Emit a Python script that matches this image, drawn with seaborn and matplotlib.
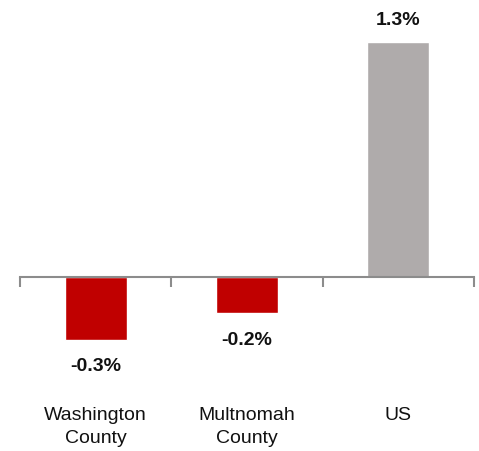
import matplotlib
matplotlib.use("Agg")
import matplotlib.pyplot as plt
import seaborn as sns
import pandas as pd
from matplotlib.transforms import blended_transform_factory

categories = ["Washington\nCounty", "Multnomah\nCounty", "US"]
values = [-0.35, -0.205, 1.30]
value_labels = ["-0.3%", "-0.2%", "1.3%"]
colors = ["#C00000", "#C00000", "#AFABAB"]

sns.set_theme(style="white")
plt.rcParams['font.family'] = ['Liberation Sans', 'DejaVu Sans']

W, H = 479, 452
fig = plt.figure(figsize=(W / 100, H / 100), dpi=100)
top_px, bot_px = 20, 390
ax = fig.add_axes([20 / W, 1 - bot_px / H, 454 / W, (bot_px - top_px) / H])

df = pd.DataFrame({"cat": categories, "val": values})
sns.barplot(data=df, x="cat", y="val", hue="cat", palette=colors, width=0.41,
            legend=False, ax=ax, saturation=1)

# y scale: zero at px 277.5, 1.3 at px 43.3
ppu = (277.5 - 43.3) / 1.3
ax.set_ylim(-(bot_px - 277.5) / ppu, (277.5 - top_px) / ppu)
ax.set_xlim(-0.5, 2.5)

for s in ["top", "right", "left"]:
    ax.spines[s].set_visible(False)
ax.spines["bottom"].set_position(("data", 0))
ax.spines["bottom"].set_color("#8C8C8C")
ax.spines["bottom"].set_linewidth(1.5)
ax.set_xticks([-0.5, 0.5, 1.5, 2.5])
ax.set_xticklabels([])
ax.tick_params(axis="x", direction="out", length=7, width=1.5, color="#8C8C8C", bottom=True)
ax.set_yticks([])
ax.set_xlabel("")
ax.set_ylabel("")

for i, (v, lab) in enumerate(zip(values, value_labels)):
    off = 23 if v > 0 else -26
    ax.annotate(lab, (i, v), xytext=(0, off), textcoords="offset pixels",
                ha="center", va="center", fontsize=14, fontweight="bold", color="#111111")

tr = blended_transform_factory(ax.transData, fig.transFigure)
for i, c in enumerate(categories):
    ax.text(i, 1 - 407 / H, c, transform=tr, ha="center", va="top",
            fontsize=14, color="#111111", linespacing=1.45)

fig.savefig("out.png", dpi=100)
